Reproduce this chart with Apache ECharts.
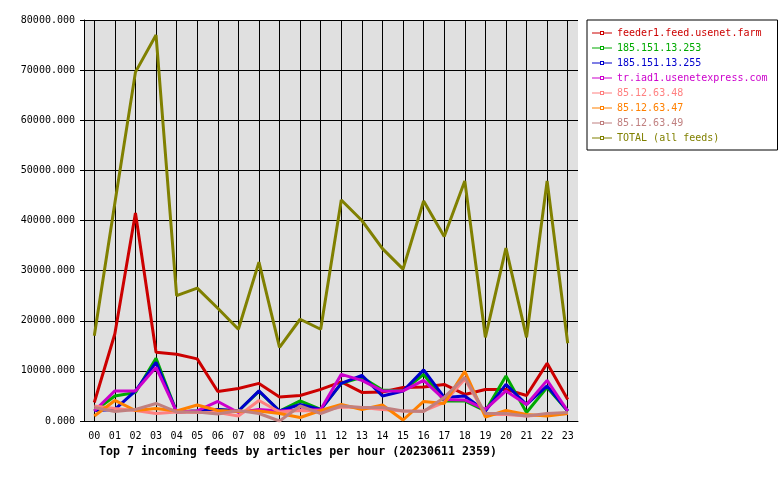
<!DOCTYPE html>
<html>
<head>
<meta charset="utf-8">
<script src="https://cdn.jsdelivr.net/npm/echarts@6/dist/echarts.min.js"></script>
<style>
html,body{margin:0;padding:0;background:#fff;}
#c{width:780px;height:480px;}
</style>
</head>
<body>
<div id="c"></div>
<script>
const hours = ["00","01","02","03","04","05","06","07","08","09","10","11","12","13","14","15","16","17","18","19","20","21","22","23"];
const seriesNames = ["feeder1.feed.usenet.farm","185.151.13.253","185.151.13.255","tr.iad1.usenetexpress.com","85.12.63.48","85.12.63.47","85.12.63.49","TOTAL (all feeds)"];
const feeder1 = [3700,17400,41500,13700,13300,12400,5900,6500,7500,4800,5100,6300,7800,5700,5800,6700,6800,7300,5300,6300,6300,5100,11500,4300];
const ip253 = [2000,5000,5700,12500,1800,2000,2300,2000,5900,2000,4000,2300,7500,8700,6200,6000,9300,4000,4000,2000,9000,1700,6700,2000];
const ip255 = [2100,2300,6000,11700,1800,2000,2300,2000,6000,2000,3300,2300,7500,9100,5000,6000,10200,4700,5000,2000,7300,3300,7000,2000];
const iad1 = [2000,6000,6000,10700,1800,2000,3900,1700,2300,2000,2200,2300,9300,8100,6000,6000,8100,4300,4200,2300,6000,3300,8100,2000];
const ip48 = [3000,2500,2100,1500,1800,1700,1700,1000,4100,1800,2100,2000,2800,2700,2300,2000,2000,3700,8400,1300,1300,1000,1300,1500];
const ip47 = [1000,4100,2100,2500,2000,3200,2100,1900,2000,1500,700,2100,3300,2300,3200,200,3900,3500,9900,800,2100,1300,1000,1500];
const ip49 = [2700,1900,2300,3500,1800,1800,1400,2100,1500,0,3000,1500,3000,2700,2700,2000,1900,4700,8700,1500,1500,1000,1500,1700];
const total = [17000,43500,69600,77000,25000,26500,22500,18300,31700,14700,20300,18300,44100,40000,34400,30300,43900,36800,47900,16700,34500,16700,47900,15500];
const titleText = "Top 7 incoming feeds by articles per hour (20230611 2359)";

const values = [feeder1, ip253, ip255, iad1, ip48, ip47, ip49, total];
const colors = ["#cc0000","#00aa00","#0000cc","#cc00cc","#ff8080","#ff8000","#c08080","#808000"];
const font = "'DejaVu Sans Mono', monospace";
const iconPath = "path://M0,2.5 H8 V1 H12 V2.5 H20 V3.5 H12 V5 H8 V3.5 H0 Z M9,2 V4 H11 V2 Z";

const chart = echarts.init(document.getElementById('c'), null, {renderer: 'canvas'});
chart.setOption({
  animation: false,
  backgroundColor: '#ffffff',
  title: {
    text: titleText,
    left: 99,
    top: 446,
    padding: 0,
    textStyle: {fontFamily: font, fontSize: 11.6, fontWeight: 'bold', color: '#000'}
  },
  legend: {
    orient: 'vertical',
    left: 587,
    top: 20,
    padding: [8, 10, 7, 5],
    itemGap: 5,
    itemWidth: 20,
    itemHeight: 6,
    borderColor: '#000',
    borderWidth: 1,
    backgroundColor: '#fff',
    textStyle: {fontFamily: font, fontSize: 10, lineHeight: 10},
    data: seriesNames.map((n, i) => ({name: n, icon: iconPath, itemStyle: {color: colors[i]}, textStyle: {color: colors[i]}}))
  },
  grid: {
    left: 84, right: 202, top: 20, bottom: 59,
    show: true, backgroundColor: '#e0e0e0', borderWidth: 0
  },
  xAxis: {
    type: 'category',
    data: hours,
    boundaryGap: true,
    axisLine: {lineStyle: {color: '#000', width: 1}},
    axisTick: {alignWithLabel: true, length: 5, lineStyle: {color: '#000'}},
    axisLabel: {fontFamily: font, fontSize: 10, color: '#000', margin: 10, interval: 0},
    splitLine: {show: true, alignWithLabel: true, interval: 0, lineStyle: {color: '#000', width: 1}}
  },
  yAxis: {
    type: 'value',
    min: 0, max: 80000, interval: 10000,
    axisLine: {show: true, lineStyle: {color: '#000', width: 1}},
    axisTick: {show: true, length: 4, lineStyle: {color: '#000'}},
    axisLabel: {fontFamily: font, fontSize: 10, color: '#000', margin: 9, formatter: v => v.toFixed(3)},
    splitLine: {show: true, lineStyle: {color: '#000', width: 1}}
  },
  series: seriesNames.map((n, i) => ({
    name: n,
    type: 'line',
    data: values[i],
    showSymbol: false,
    symbol: 'none',
    lineStyle: {color: colors[i], width: 3},
    itemStyle: {color: colors[i]}
  }))
});
</script>
</body>
</html>
